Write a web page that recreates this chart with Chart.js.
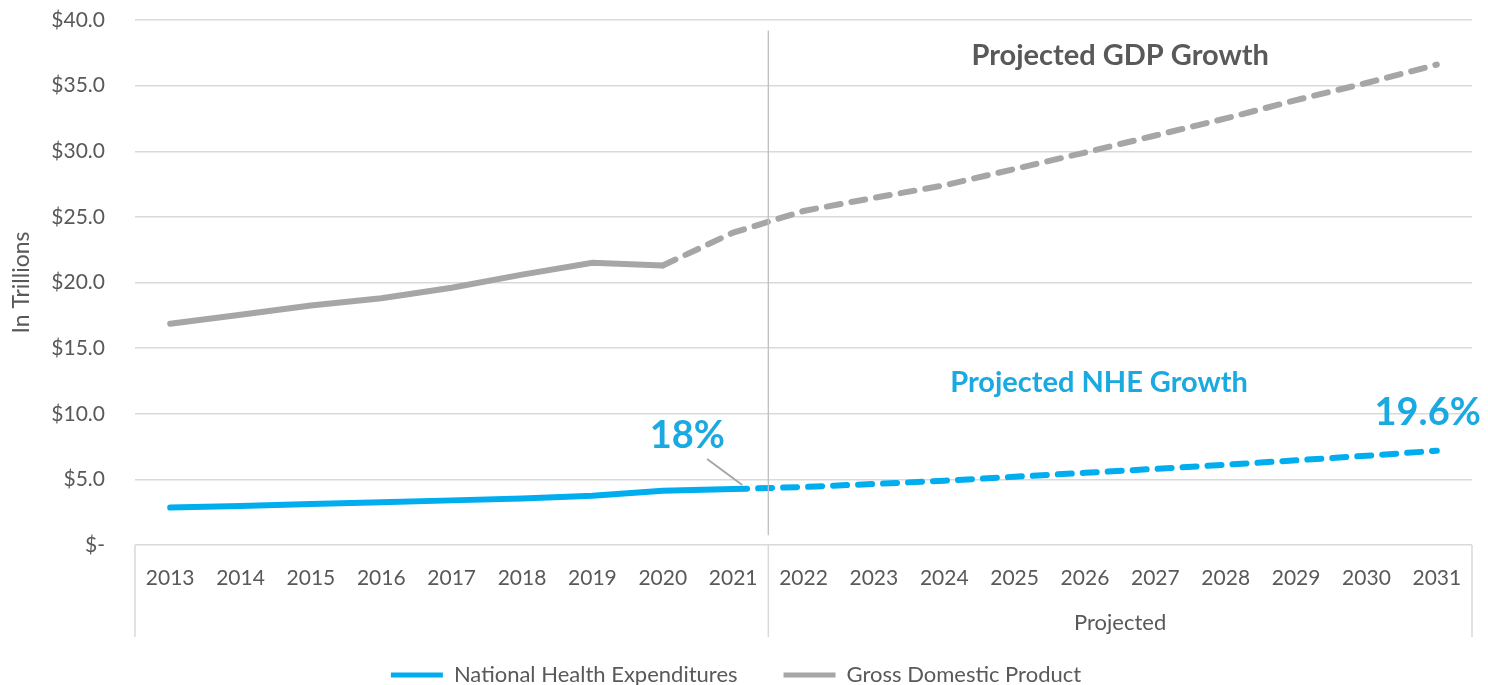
<!DOCTYPE html>
<html>
<head>
<meta charset="utf-8">
<script src="https://cdn.jsdelivr.net/npm/chart.js@4.4.1/dist/chart.umd.min.js"></script>
<style>
  html, body { margin: 0; padding: 0; background: #fff; }
  #wrap { width: 1488px; height: 685px; }
</style>
</head>
<body>
<div id="wrap"><canvas id="myChart"></canvas></div>
<script>
const years = ['2013', '2014', '2015', '2016', '2017', '2018', '2019', '2020', '2021', '2022',
  '2023', '2024', '2025', '2026', '2027', '2028', '2029', '2030', '2031'];
const nhe = [2.85, 2.97, 3.12, 3.26, 3.40, 3.55, 3.75, 4.14, 4.26, 4.42,
  4.65, 4.90, 5.20, 5.50, 5.80, 6.12, 6.45, 6.80, 7.18];
const gdp = [16.85, 17.55, 18.25, 18.80, 19.60, 20.60, 21.50, 21.30, 23.80, 25.45,
  26.45, 27.40, 28.65, 29.90, 31.20, 32.50, 33.90, 35.20, 36.60];
const yTicks = [0, 5, 10, 15, 20, 25, 30, 35, 40];
const groupLabel = 'Projected';
const firstProjected = 9;   // index of 2022

const blue = '#00ADEF';
const grey = '#A6A6A6';
const textGrey = '#595959';
const font = 'Lato';

// extra drawing: separator, multi-level axis lines, text labels
const extras = {
  id: 'extras',
  afterDraw(chart) {
    const {ctx, chartArea, scales: {x, y}} = chart;
    const mid = (x.getPixelForValue(firstProjected - 1) + x.getPixelForValue(firstProjected)) / 2;
    ctx.save();

    // projected separator inside plot
    ctx.strokeStyle = '#BFBFBF';
    ctx.lineWidth = 1.3;
    ctx.beginPath();
    ctx.moveTo(mid, y.getPixelForValue(39.2));
    ctx.lineTo(mid, y.getPixelForValue(0.75));
    ctx.stroke();

    // multi-level category axis lines
    ctx.strokeStyle = '#D9D9D9';
    ctx.lineWidth = 1.5;
    [chartArea.left, mid, chartArea.right].forEach(px => {
      ctx.beginPath();
      ctx.moveTo(px, chartArea.bottom);
      ctx.lineTo(px, chartArea.bottom + 92);
      ctx.stroke();
    });
    ctx.fillStyle = textGrey;
    ctx.font = '22px ' + font;
    ctx.textAlign = 'center';
    ctx.textBaseline = 'middle';
    ctx.fillText(groupLabel, (mid + chartArea.right) / 2, chartArea.bottom + 78);

    // annotations
    ctx.font = 'bold 29px ' + font;
    ctx.fillStyle = textGrey;
    ctx.fillText('Projected GDP Growth', x.getPixelForValue(13.5), y.getPixelForValue(37.3));
    ctx.fillStyle = '#1AA9E0';
    ctx.fillText('Projected NHE Growth', x.getPixelForValue(13.2), y.getPixelForValue(12.4));
    ctx.font = 'bold 38px ' + font;
    ctx.fillText('18%', x.getPixelForValue(7.35), y.getPixelForValue(8.3));
    ctx.fillText('19.6%', x.getPixelForValue(17.87), y.getPixelForValue(10.05));

    // leader line
    ctx.strokeStyle = grey;
    ctx.lineWidth = 2;
    ctx.beginPath();
    ctx.moveTo(x.getPixelForValue(7.63), y.getPixelForValue(6.55));
    ctx.lineTo(x.getPixelForValue(8.13), y.getPixelForValue(4.57));
    ctx.stroke();
    ctx.restore();
  }
};

const ctx = document.getElementById('myChart');

new Chart(ctx, {
  type: 'line',
  data: {
    labels: years,
    datasets: [{
      label: 'National Health Expenditures',
      data: nhe,
      borderColor: blue,
      backgroundColor: blue,
      borderWidth: 6,
      borderCapStyle: 'round',
      pointRadius: 0,
      tension: 0,
      segment: {
        borderDash: c => c.p0DataIndex >= 8 ? [14, 11] : undefined
      }
    }, {
      label: 'Gross Domestic Product',
      data: gdp,
      borderColor: grey,
      backgroundColor: grey,
      borderWidth: 6,
      borderCapStyle: 'round',
      pointRadius: 0,
      tension: 0,
      segment: {
        borderDash: c => c.p0DataIndex >= 7 ? [14, 11] : undefined
      }
    }]
  },
  options: {
    responsive: true,
    maintainAspectRatio: false,
    animation: false,
    layout: { padding: { left: 0, right: 16, top: 20, bottom: 0 } },
    plugins: {
      tooltip: { enabled: false },
      legend: {
        position: 'bottom',
        maxHeight: 67,
        labels: {
          color: textGrey,
          font: { family: font, size: 22 },
          boxWidth: 52,
          boxHeight: 5,
          padding: 46,
          generateLabels: chart => chart.data.datasets.map((d, i) => ({
            text: d.label,
            fillStyle: d.borderColor,
            strokeStyle: d.borderColor,
            lineWidth: 0,
            fontColor: textGrey,
            datasetIndex: i
          }))
        }
      }
    },
    scales: {
      x: {
        offset: true,
        grid: { display: false },
        border: { display: false },
        ticks: {
          color: textGrey,
          font: { family: font, size: 21 },
          padding: 13,
          maxRotation: 0,
          autoSkip: false
        },
        afterFit: s => { s.height = 73; }
      },
      y: {
        min: 0,
        max: 40,
        afterBuildTicks: s => { s.ticks = yTicks.map(v => ({ value: v })); },
        grid: { color: '#D9D9D9', lineWidth: 1.5, drawTicks: false },
        border: { display: false },
        title: {
          display: true,
          text: 'In Trillions',
          color: textGrey,
          font: { family: font, size: 23 },
          padding: 8
        },
        ticks: {
          color: textGrey,
          font: { family: font, size: 21 },
          padding: 30,
          callback: v => v === 0 ? '$-' : '$' + v.toFixed(1)
        },
        afterFit: s => {
          s.width = 135;
          s.paddingTop = 0;
          s.paddingBottom = 0;
        }
      }
    }
  },
  plugins: [extras]
});
</script>
</body>
</html>
